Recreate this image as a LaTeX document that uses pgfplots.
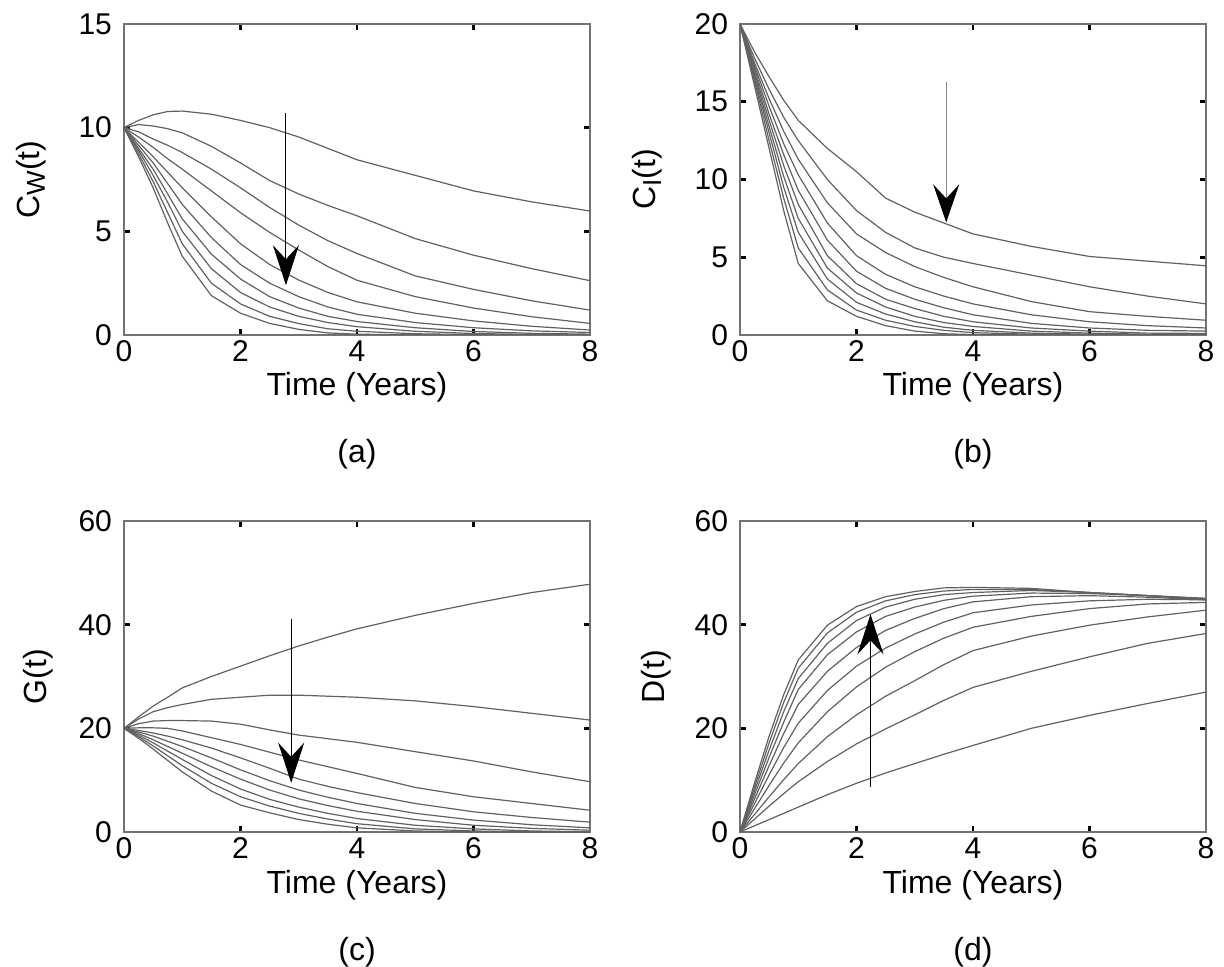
\documentclass[border=0pt]{standalone}
\usepackage{fontspec}
\setmainfont{Liberation Sans}
\usepackage{pgfplots}
\pgfplotsset{compat=1.18}
\usepackage{pgfplotstable}
\usetikzlibrary{arrows.meta}

\pgfplotstableread{
t a1 a2 a3 a4 a5 a6 a7 a8 a9 a10
0 10 10 10 10 10 10 10 10 10 10
0.25 10.35 10.15 9.8 9.55 9.3 9.15 9.0 8.9 8.75 8.6
0.5 10.62 10.08 9.45 9.05 8.6 8.3 8.0 7.7 7.4 7.1
0.75 10.78 9.95 9.15 8.5 7.85 7.3 6.8 6.4 5.9 5.4
1 10.8 9.75 8.8 8.0 7.1 6.3 5.6 5.0 4.4 3.8
1.5 10.65 9.1 8.0 6.95 5.7 4.7 3.9 3.2 2.5 1.9
2 10.35 8.3 7.1 5.9 4.4 3.4 2.7 2.05 1.5 1.05
2.5 10.0 7.45 6.15 4.95 3.4 2.5 1.85 1.35 0.9 0.56
3 9.55 6.8 5.3 4.1 2.65 1.85 1.3 0.9 0.55 0.27
3.5 9.0 6.25 4.55 3.3 2.05 1.35 0.9 0.6 0.3 0.1
4 8.45 5.75 3.93 2.64 1.6 1.0 0.65 0.4 0.18 0.04
5 7.7 4.65 2.85 1.85 1.05 0.6 0.35 0.18 0.06 0
6 6.95 3.85 2.2 1.3 0.68 0.35 0.17 0.07 0.02 0
7 6.42 3.2 1.65 0.88 0.42 0.2 0.08 0.03 0 0
8 5.98 2.62 1.2 0.56 0.24 0.12 0.04 0 0 0
}\dataA

\pgfplotstableread{
t a1 a2 a3 a4 a5 a6 a7 a8 a9 a10
0 20 20 20 20 20 20 20 20 20 20
0.25 18.2 17.8 17.5 17.3 17.1 16.9 16.7 16.5 16.3 16.0
0.5 16.6 15.8 15.2 14.7 14.2 13.8 13.4 13.0 12.5 12.0
0.75 15.1 14.0 13.1 12.3 11.6 10.9 10.2 9.5 8.8 8.0
1 13.8 12.5 11.3 10.3 9.3 8.4 7.5 6.6 5.6 4.6
1.5 12.0 10.0 8.5 7.2 6.1 5.1 4.3 3.6 2.9 2.2
2 10.5 8.0 6.5 5.1 4.1 3.3 2.7 2.1 1.6 1.2
2.5 8.8 6.6 5.3 3.9 3.0 2.3 1.8 1.35 0.95 0.6
3 7.9 5.6 4.4 3.1 2.3 1.7 1.2 0.85 0.55 0.25
3.5 7.2 5.0 3.7 2.5 1.75 1.2 0.8 0.5 0.3 0.08
4 6.5 4.6 3.1 2.0 1.3 0.85 0.55 0.3 0.15 0.03
5 5.7 3.85 2.15 1.3 0.75 0.45 0.25 0.12 0.05 0
6 5.05 3.1 1.5 0.85 0.45 0.25 0.12 0.05 0 0
7 4.75 2.5 1.2 0.6 0.3 0.12 0.05 0 0 0
8 4.45 2.0 0.95 0.45 0.25 0.1 0.03 0 0 0
}\dataB

\pgfplotstableread{
t a1 a2 a3 a4 a5 a6 a7 a8 a9 a10
0 20 20 20 20 20 20 20 20 20 20
0.25 22.2 21.8 20.9 20.1 19.6 19.3 19.0 18.7 18.4 18.1
0.5 24.3 23.2 21.4 20.1 19.1 18.5 17.8 17.2 16.6 16.0
0.75 26.0 24.0 21.5 20.0 18.5 17.5 16.5 15.6 14.7 13.8
1 27.8 24.6 21.5 19.5 17.8 16.5 15.2 14.0 12.8 11.6
1.5 30.0 25.6 21.4 18.2 16.2 14.3 12.6 10.9 9.4 7.9
2 32.0 26.0 20.8 16.9 14.3 12.0 10.2 8.3 6.8 5.2
2.5 34.0 26.4 19.7 15.4 12.3 9.9 8.1 6.3 5.0 3.7
3 35.9 26.4 18.7 13.9 10.2 8.1 6.4 4.8 3.6 2.4
3.5 37.6 26.2 18.0 12.6 8.8 6.7 5.1 3.6 2.5 1.5
4 39.2 26.0 17.3 11.3 7.6 5.5 4.0 2.6 1.6 0.8
5 41.8 25.3 15.5 8.6 5.5 3.6 2.4 1.3 0.6 0.2
6 44.1 24.2 13.7 6.8 3.9 2.3 1.3 0.6 0.2 0
7 46.2 22.9 11.6 5.5 2.8 1.4 0.7 0.2 0 0
8 47.8 21.6 9.7 4.2 1.9 0.8 0.35 0.05 0 0
}\dataC

\pgfplotstableread{
t a1 a2 a3 a4 a5 a6 a7 a8 a9 a10
0 0 0 0 0 0 0 0 0 0 0
0.25 9.5 8.7 8.0 7.2 6.4 5.5 4.5 3.4 2.5 1.2
0.5 18.5 17.2 15.8 14.4 12.8 11.0 9.0 6.8 5.0 2.4
0.75 26.5 25.0 23.2 21.2 19.0 16.3 13.3 10.1 7.4 3.6
1 33.2 31.6 29.6 27.5 24.6 21.0 17.2 13.2 9.7 4.8
1.5 39.9 38.4 36.4 34.2 31.0 27.3 23.2 18.4 13.6 7.2
2 43.5 42.4 40.8 38.6 35.6 32.0 28.0 22.6 17.0 9.4
2.5 45.4 44.6 43.4 41.6 38.9 35.5 31.8 26.2 19.9 11.4
3 46.4 45.8 44.9 43.4 41.2 38.2 34.8 29.2 22.6 13.2
3.5 47.1 46.5 45.8 44.7 43.1 40.5 37.4 32.3 25.4 15.0
4 47.2 46.8 46.2 45.5 44.4 42.3 39.5 35.0 27.9 16.7
5 47.0 46.8 46.6 46.1 45.4 43.8 41.6 37.8 31.0 20.0
6 46.2 46.2 46.2 46.0 45.6 44.6 43.1 39.9 33.8 22.5
7 45.6 45.6 45.6 45.6 45.3 44.9 44.0 41.5 36.4 24.8
8 44.8 45.0 45.1 45.0 44.8 44.8 44.3 42.8 38.3 27.0
}\dataD

\newcommand{\tlbl}{\fontsize{15}{18}\selectfont}
\newcommand{\lbl}{\fontsize{16}{19}\selectfont}
\newcommand{\sub}[1]{\raisebox{-0.35ex}{\fontsize{13}{13}\selectfont #1}}

\pgfplotsset{
  panel/.style={
    scale only axis, width=233pt, height=155.5pt,
    xmin=0, xmax=8, xtick={0,2,4,6,8},
    tick align=inside, major tick length=3pt,
    every tick/.style={black, line width=1.3pt},
    axis line style={black!55, line width=0.6pt},
    ticklabel style={font=\tlbl},
    xticklabel style={yshift=-1.5pt, inner ysep=1pt},
    yticklabel style={xshift=-2.5pt},
    /pgf/number format/assume math mode=true,
    xlabel={Time (Years)},
    xlabel style={font=\lbl, at={(axis description cs:0.5,0)}, anchor=base, yshift=-30.5pt, inner ysep=1pt},
    ylabel style={font=\lbl, anchor=center},
    clip mode=individual,
  },
  curve/.style={black!62, line width=0.6pt, no markers},
}

\begin{document}
\begin{tikzpicture}
\useasboundingbox (-62pt,167.5pt) rectangle (550pt,-316pt);

% (a)
\begin{axis}[panel, at={(0pt,0pt)}, anchor=south west,
  ymin=0, ymax=15, ytick={0,5,10,15},
  ylabel={C\sub{W}(t)}, ylabel style={at={(axis description cs:-0.2,0.5)}}]
\pgfplotsinvokeforeach{1,...,10}{\addplot[curve] table[x=t,y=a#1]{\dataA};}
\draw[black, line width=0.5pt, -{Stealth[length=20pt,width=13pt,inset=7pt]}] (axis cs:2.78,10.7) -- (axis cs:2.78,2.4);
\node[font=\lbl, anchor=base] at ([yshift=-64pt]axis description cs:0.5,0) {(a)};
\end{axis}

% (b)
\begin{axis}[panel, at={(308pt,0pt)}, anchor=south west,
  ymin=0, ymax=20, ytick={0,5,10,15,20},
  ylabel={C\sub{I}(t)}, ylabel style={at={(axis description cs:-0.2,0.5)}}]
\pgfplotsinvokeforeach{1,...,10}{\addplot[curve] table[x=t,y=a#1]{\dataB};}
\draw[black!45, line width=0.6pt, -{Stealth[length=19pt,width=13pt,inset=7pt,black]}] (axis cs:3.54,16.3) -- (axis cs:3.54,7.24);
\node[font=\lbl, anchor=base] at ([yshift=-64pt]axis description cs:0.5,0) {(b)};
\end{axis}

% (c)
\begin{axis}[panel, at={(0pt,-248.5pt)}, anchor=south west,
  ymin=0, ymax=60, ytick={0,20,40,60},
  ylabel={G(t)}, ylabel style={at={(axis description cs:-0.185,0.5)}}]
\pgfplotsinvokeforeach{1,...,10}{\addplot[curve] table[x=t,y=a#1]{\dataC};}
\draw[black, line width=0.5pt, -{Stealth[length=20pt,width=13pt,inset=7pt]}] (axis cs:2.87,41) -- (axis cs:2.87,9.5);
\node[font=\lbl, anchor=base] at ([yshift=-64pt]axis description cs:0.5,0) {(c)};
\end{axis}

% (d)
\begin{axis}[panel, at={(308pt,-248.5pt)}, anchor=south west,
  ymin=0, ymax=60, ytick={0,20,40,60},
  ylabel={D(t)}, ylabel style={at={(axis description cs:-0.18,0.5)}}]
\pgfplotsinvokeforeach{1,...,10}{\addplot[curve] table[x=t,y=a#1]{\dataD};}
\draw[black, line width=0.5pt, -{Stealth[length=20pt,width=13pt,inset=7pt]}] (axis cs:2.24,8.7) -- (axis cs:2.24,42);
\node[font=\lbl, anchor=base] at ([yshift=-64pt]axis description cs:0.5,0) {(d)};
\end{axis}
\end{tikzpicture}
\end{document}
